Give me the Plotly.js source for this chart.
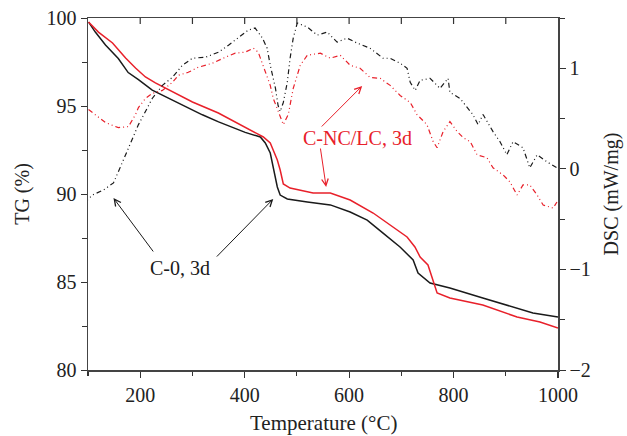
<!DOCTYPE html>
<html>
<head>
<meta charset="utf-8">
<script src="https://cdn.plot.ly/plotly-3.0.1.min.js"></script>
<style>html,body{margin:0;padding:0;background:#fff;}#chart{width:627px;height:436px;}</style>
</head>
<body>
<div id="chart"></div>
<script>
// TG, C-0 3d (black solid)
const tgBlackX = [101,114,133.5,158,177,196.6,223,254,286.5,319,350,401,430,439.5,449,454.8,462.5,468,481.6,520,564,602,634.6,665,697.5,722.6,732,755,793,856,921.6,952,1000];
const tgBlackY = [99.77,99.2,98.47,97.7,96.9,96.5,95.9,95.45,94.94,94.5,94.1,93.5,93.24,92.9,92.33,91.53,90.4,89.94,89.72,89.55,89.38,88.98,88.52,87.78,86.99,86.25,85.51,84.94,84.66,84.09,83.52,83.24,83.01];
// TG, C-NC/LC 3d (red solid)
const tgRedX = [101,120,147,172,191,210,229,261.6,300,349.6,401,435.7,449,462.5,468,474,487,531,564,602,646,684,711,726,736,751,768.5,793,856,921.6,965.5,1000];
const tgRedY = [99.77,99.2,98.58,97.73,97.16,96.65,96.31,95.8,95.23,94.6,93.8,93.24,92.9,91.93,91.36,90.57,90.34,90.06,90.06,89.66,88.92,88.13,87.56,86.99,86.42,85.97,84.38,84.09,83.69,83.01,82.73,82.39];
// DSC, C-0 3d (black dash-dot-dot)
const dscBlackX = [93,108.6,129.6,148.8,158,172,185,196.6,210,223,242.5,261.6,280.8,300,325,350,369,395.5,407,420,434,443,449,459,464,468,474,481.6,487,493,500.7,520,539,558,577,596,615.5,640,665,678.6,697.7,711,717,726.6,736,755,774,789.5,793,812.5,826,837,847,856.5,875.6,889,902,914,933,946,960,979,998];
const dscBlackY = [-0.34,-0.26,-0.21,-0.14,-0.03,0.14,0.31,0.44,0.57,0.70,0.83,0.91,1.03,1.10,1.11,1.16,1.23,1.33,1.38,1.40,1.30,1.20,1.03,0.80,0.63,0.57,0.66,0.86,1.10,1.30,1.45,1.41,1.33,1.36,1.26,1.30,1.25,1.20,1.10,1.10,1.05,1.00,0.86,0.78,0.88,0.90,0.80,0.90,0.76,0.70,0.61,0.54,0.44,0.54,0.37,0.27,0.14,0.27,0.21,0.01,0.14,0.07,0.01];
// DSC, C-NC/LC 3d (red dash-dot-dot)
const dscRedX = [101,114,133.5,158,177.5,191,196.6,210,223,242.5,261.6,273,292,311,338,363,382,401,416.6,426,439.5,449,454.8,464,474,483.5,493,506.5,520,545,564,583,602,621,640,659.5,678.6,697.7,717,730,749,761,768.5,780,793,807,818.5,832,845,864,875.6,894.8,908,921.6,933,946,960,971.6,990.7,998];
const dscRedY = [0.59,0.54,0.46,0.41,0.42,0.54,0.61,0.70,0.75,0.78,0.86,0.93,0.96,1.01,1.05,1.11,1.15,1.16,1.20,1.16,0.96,0.83,0.70,0.57,0.44,0.54,0.80,1.03,1.13,1.15,1.10,1.13,1.03,1.00,0.91,0.90,0.83,0.73,0.66,0.54,0.44,0.27,0.21,0.37,0.47,0.37,0.31,0.27,0.14,0.11,0.01,-0.06,-0.13,-0.26,-0.16,-0.16,-0.26,-0.36,-0.39,-0.33];

const xTickVals = [200,400,600,800,1000];
const xTopTickVals = [200,300,400,500,600,700,800,900];
const tgTickVals = [80,85,90,95,100];
const dscTickVals = [-2,-1,0,1];

const RED = '#e8202a';
const BLACK = '#1a1a1a';
const FONT = 'Liberation Serif, Times New Roman, serif';
const FS = 20;
const dashDD = '5px,3px,1px,3px,1px,3px';

const traces = [
  {x: dscBlackX, y: dscBlackY, yaxis: 'y2', mode: 'lines', line: {color: BLACK, width: 1.2, dash: dashDD}, hoverinfo: 'skip'},
  {x: dscRedX, y: dscRedY, yaxis: 'y2', mode: 'lines', line: {color: RED, width: 1.2, dash: dashDD}, hoverinfo: 'skip'},
  {x: tgBlackX, y: tgBlackY, mode: 'lines', line: {color: BLACK, width: 1.5}, hoverinfo: 'skip'},
  {x: tgRedX, y: tgRedY, mode: 'lines', line: {color: RED, width: 1.5}, hoverinfo: 'skip'}
];

// inward tick marks along the top frame edge
const topTickShapes = xTopTickVals.map(v => ({
  type: 'line', xref: 'x', yref: 'paper', x0: v, x1: v, y0: 1, y1: 1 - 6 / 352,
  line: {color: '#333', width: 1.2}
}));

const layout = {
  width: 627, height: 436,
  margin: {l: 88, r: 69, t: 18, b: 66},
  paper_bgcolor: '#fff', plot_bgcolor: '#fff',
  showlegend: false,
  font: {family: FONT, size: FS, color: '#222'},
  xaxis: {
    range: [100, 1000], tickvals: xTickVals, ticks: 'outside', ticklen: 6, tickwidth: 1.2, tickcolor: '#333',
    minor: {dtick: 100, tick0: 0, ticks: 'outside', ticklen: 4, tickcolor: '#333'},
    showgrid: false, zeroline: false, showline: true, linecolor: '#444', linewidth: 1.5, mirror: true,
    tickfont: {family: FONT, size: FS, color: '#222'}
  },
  yaxis: {
    range: [80, 100], tickvals: tgTickVals, ticks: 'outside', ticklen: 6, tickcolor: '#333',
    minor: {dtick: 2.5, tick0: 80, ticks: 'outside', ticklen: 5, tickcolor: '#333'},
    showgrid: false, zeroline: false, showline: true, linecolor: '#444', linewidth: 1.5,
    title: {text: 'TG (%)', font: {family: FONT, size: FS, color: '#222'}, standoff: 11},
    tickfont: {family: FONT, size: FS, color: '#222'}
  },
  yaxis2: {
    range: [-2, 1.5], overlaying: 'y', side: 'right', tickvals: dscTickVals, ticks: 'outside', ticklen: 6, tickcolor: '#333',
    minor: {dtick: 0.5, tick0: 0, ticks: 'outside', ticklen: 5, tickcolor: '#333'},
    showgrid: false, zeroline: false, showline: true, linecolor: '#444', linewidth: 1.5,
    title: {text: 'DSC (mW/mg)', font: {family: FONT, size: FS, color: '#222'}, standoff: 14},
    tickfont: {family: FONT, size: FS, color: '#222'}
  },
  shapes: topTickShapes,
  annotations: [
    {x: 0.5, y: -0.15, xref: 'paper', yref: 'paper', yanchor: 'middle', text: 'Temperature (°C)', showarrow: false, font: {family: FONT, size: 21, color: '#222'}},
    {x: 277, y: 85.8, xref: 'x', yref: 'y', text: 'C-0, 3d', showarrow: false, font: {family: FONT, size: FS, color: BLACK}},
    {x: 148.8, y: 89.77, ax: 227, ay: 86.65, xref: 'x', yref: 'y', axref: 'x', ayref: 'y', text: '', showarrow: true, arrowhead: 5, arrowsize: 1.3, arrowwidth: 1, arrowcolor: BLACK},
    {x: 454.8, y: 89.72, ax: 343.9, ay: 86.36, xref: 'x', yref: 'y', axref: 'x', ayref: 'y', text: '', showarrow: true, arrowhead: 5, arrowsize: 1.3, arrowwidth: 1, arrowcolor: BLACK},
    {x: 617, y: 93.18, xref: 'x', yref: 'y', text: 'C-NC/LC, 3d', showarrow: false, font: {family: FONT, size: FS, color: RED}},
    {x: 625, y: 96.14, ax: 544.7, ay: 93.75, xref: 'x', yref: 'y', axref: 'x', ayref: 'y', text: '', showarrow: true, arrowhead: 5, arrowsize: 1.3, arrowwidth: 1, arrowcolor: RED},
    {x: 556, y: 90.4, ax: 544.7, ay: 92.67, xref: 'x', yref: 'y', axref: 'x', ayref: 'y', text: '', showarrow: true, arrowhead: 5, arrowsize: 1.3, arrowwidth: 1, arrowcolor: RED}
  ]
};

Plotly.newPlot('chart', traces, layout, {staticPlot: true, displayModeBar: false});
</script>
</body>
</html>
